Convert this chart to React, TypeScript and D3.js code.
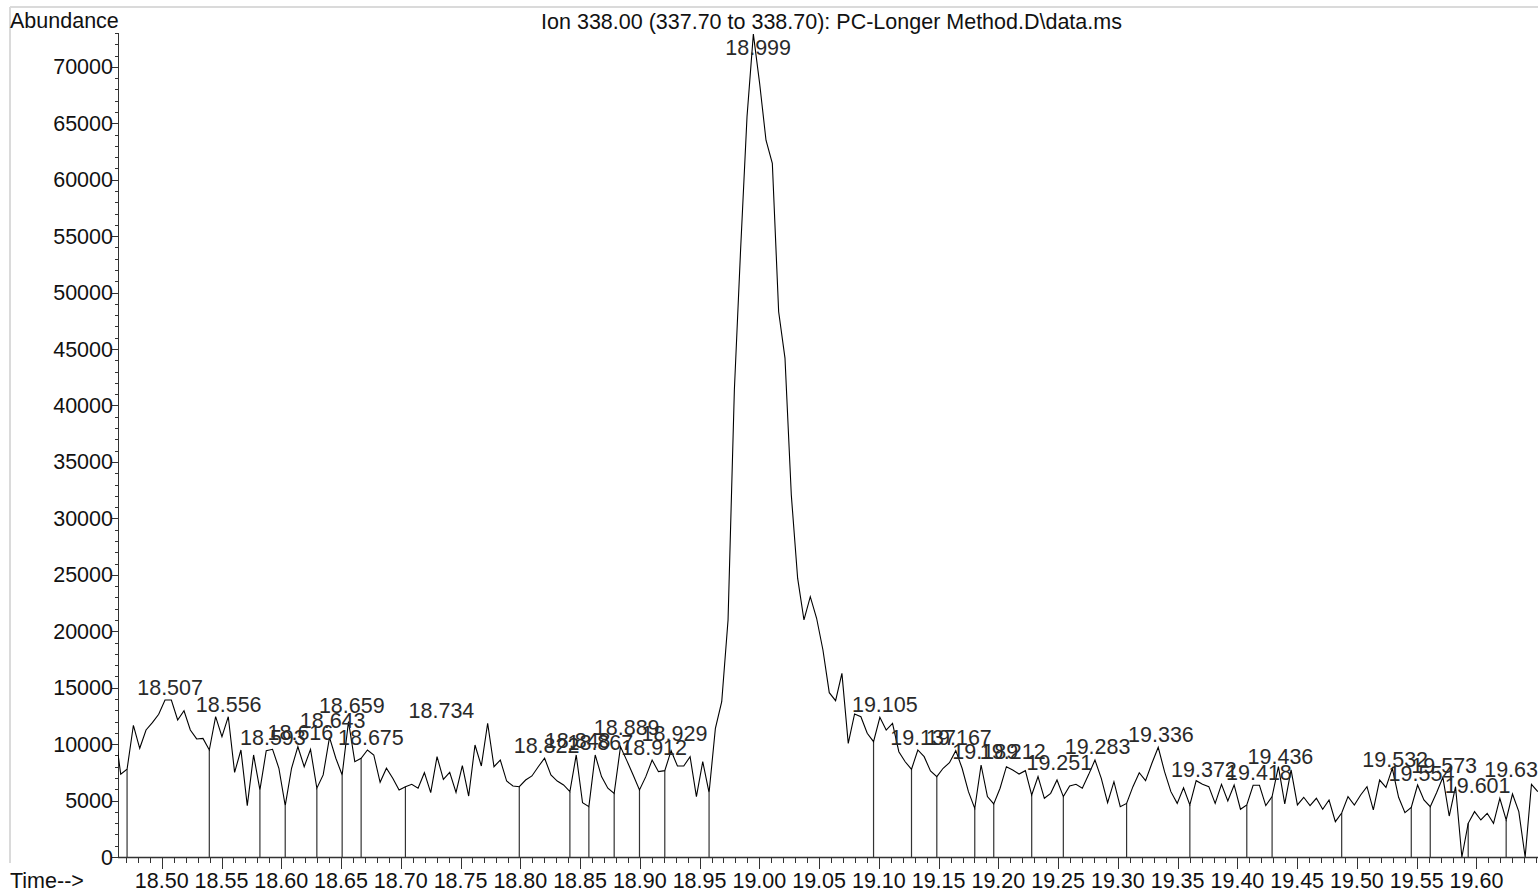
import React from 'react';
import * as d3 from 'd3';

// ---- data ----
const scanStart = 18.4604; // min, first scan
const scanInterval = 0.005293; // min between scans

const abundance = [
  11450, 7330, 7770, 11670, 9630, 11250, 11900, 12640, 13910, 13910,
  12140, 12960, 11250, 10460, 10510, 9480, 12430, 10660, 12430, 7500,
  9480, 4550, 9040, 5940, 9420, 9540, 7860, 4550, 7860, 9770,
  8000, 9540, 6090, 7270, 10600, 8750, 7270, 11990, 8450, 8750,
  9480, 9040, 6620, 7860, 6970, 5940, 6230, 6440, 6090, 7470,
  5700, 8890, 6880, 7500, 5730, 8090, 5400, 9920, 8060, 11850,
  8000, 8590, 6730, 6290, 6230, 6820, 7180, 8000, 8750, 7270,
  6730, 6380, 5790, 9040, 4810, 4460, 9040, 7120, 6090, 5640,
  9770, 8540, 7270, 5940, 7120, 8590, 7560, 7650, 9420, 8060,
  8060, 8890, 5350, 8450, 5700, 11400, 13760, 21000, 41400, 54000,
  65600, 72900, 68500, 63500, 61460, 48300, 44200, 32070, 24700, 21000,
  23060, 21150, 18340, 14560, 13850, 16270, 10070, 12670, 12430, 10960,
  10220, 12370, 11250, 11840, 9330, 8440, 7770, 9480, 8890, 7620,
  7120, 7860, 8360, 9420, 7860, 5790, 4310, 8150, 5350, 4700,
  6090, 8000, 7710, 7350, 7650, 5490, 7120, 5200, 5640, 6820,
  5350, 6290, 6440, 6090, 7300, 8590, 6970, 4810, 6670, 4460,
  4750, 6230, 7470, 6760, 8300, 9720, 7560, 5790, 4750, 6140,
  4610, 6760, 6440, 6230, 4750, 6440, 4960, 6380, 4230, 4610,
  6350, 6350, 4550, 5350, 8000, 4700, 7710, 4610, 5290, 4550,
  5200, 4230, 5050, 3130, 3900, 5350, 4610, 5490, 6230, 4170,
  6820, 6170, 7860, 5290, 3930, 4400, 6380, 5050, 4460, 5700,
  7060, 3630, 6230, 0, 2980, 4020, 3280, 3870, 2980, 5200,
  3280, 5580, 4020, 0, 6440, 5790,
];

// scan numbers (1-based) of the integration boundaries (drop lines)
const boundaryScans = [
  3, 16, 24, 28, 33, 37, 40, 47, 65, 73, 76, 80, 84, 88, 95,
  121, 127, 131, 137, 140, 146, 151, 161, 171, 180, 184, 195,
  206, 209, 215, 221, 224,
];

const peakLabels = [
  '18.507', '18.556', '18.593', '18.616', '18.643', '18.659', '18.675',
  '18.734', '18.822', '18.848', '18.867', '18.889', '18.912', '18.929',
  '18.999', '19.105', '19.137', '19.167', '19.189', '19.212', '19.251',
  '19.283', '19.336', '19.372', '19.418', '19.436', '19.532', '19.554',
  '19.573', '19.601', '19.634',
];
// abundance level at which each label's baseline sits
const labelLevels = [
  14350, 12870, 9920, 10370, 11400, 12730, 9920,
  12290, 9190, 9700, 9480, 10810, 9040, 10320,
  71060, 12870, 9920, 9920, 8660, 8660, 7710,
  9130, 10220, 7060, 6820, 8240, 7950, 6760,
  7470, 5700, 7090,
];

const yTickValues = [0, 5000, 10000, 15000, 20000, 25000, 30000, 35000, 40000, 45000, 50000, 55000, 60000, 65000, 70000];
const xTickLabels = ['18.50', '18.55', '18.60', '18.65', '18.70', '18.75', '18.80', '18.85', '18.90', '18.95', '19.00', '19.05', '19.10', '19.15', '19.20', '19.25', '19.30', '19.35', '19.40', '19.45', '19.50', '19.55', '19.60'];

const title = 'Ion 338.00 (337.70 to 338.70): PC-Longer Method.D\\data.ms';

export default function App() {
  const W = 1538;
  const H = 892;
  const left = 118;
  const right = 1538;
  const top = 33;
  const bottom = 857;
  const font = '"Liberation Sans", Arial, sans-serif';
  const fs = 21.5;

  const x = d3.scaleLinear().domain([18.4634, 19.6515]).range([left, right]);
  const y = d3.scaleLinear().domain([0, 73000]).range([bottom, top]);

  const times = abundance.map((_, i) => scanStart + i * scanInterval);
  const pts: [number, number][] = abundance.map((v, i) => [times[i], v]);
  const line = d3
    .line<[number, number]>()
    .x((d) => x(d[0]))
    .y((d) => y(d[1]));

  const minorY = d3.range(0, 73001, 1000);
  const minorX = d3.range(0, 119).map((k) => 18.47 + k * 0.01).filter((t) => x(t) >= left && x(t) <= right);

  return (
    <svg
      width={W}
      height={H}
      style={{ position: 'absolute', left: 0, top: 0, background: '#fff' }}
      fontFamily={font}
    >
      <defs>
        <clipPath id="plot">
          <rect x={left} y={0} width={right - left} height={bottom + 1} />
        </clipPath>
      </defs>
      {/* frame */}
      <line x1={10} y1={7} x2={W} y2={7} stroke="#dadada" strokeWidth={2} />
      <line x1={10} y1={7} x2={10} y2={863} stroke="#dadada" strokeWidth={2} />

      <text x={10} y={28} fontSize={fs} fill="#111">Abundance</text>
      <text x={831.5} y={29} fontSize={fs} fill="#111" textAnchor="middle">{title}</text>
      <text x={10} y={888} fontSize={fs} fill="#111">Time--&gt;</text>

      {/* y axis */}
      <line x1={left + 0.5} y1={top} x2={left + 0.5} y2={bottom} stroke="#333" strokeWidth={1} />
      {minorY.map((v) => (
        <line key={'my' + v} x1={left - (v % 5000 === 0 ? 6 : 3)} x2={left} y1={Math.round(y(v)) + 0.5} y2={Math.round(y(v)) + 0.5} stroke="#333" strokeWidth={1} />
      ))}
      {yTickValues.map((v) => (
        <text key={'yt' + v} x={113} y={y(v) + 7.5} fontSize={fs} textAnchor="end" fill="#111">{v}</text>
      ))}

      {/* x axis */}
      <line x1={left} y1={bottom + 0.5} x2={right} y2={bottom + 0.5} stroke="#333" strokeWidth={1.5} />
      {minorX.map((t, k) => (
        <line key={'mx' + k} x1={Math.round(x(t)) + 0.5} x2={Math.round(x(t)) + 0.5} y1={bottom} y2={bottom + 6} stroke="#333" strokeWidth={1} />
      ))}
      {xTickLabels.map((s) => (
        <g key={'xt' + s}>
          <line x1={Math.round(x(+s)) + 0.5} x2={Math.round(x(+s)) + 0.5} y1={bottom} y2={bottom + 12} stroke="#333" strokeWidth={1} />
          <text x={x(+s)} y={888} fontSize={fs} textAnchor="middle" fill="#111">{s}</text>
        </g>
      ))}

      <g clipPath="url(#plot)">
        {boundaryScans.map((s) => (
          <line
            key={'b' + s}
            x1={x(times[s - 1])}
            x2={x(times[s - 1])}
            y1={bottom}
            y2={y(abundance[s - 1])}
            stroke="#333"
            strokeWidth={1.2}
          />
        ))}
        <path d={line(pts) || ''} fill="none" stroke="#000" strokeWidth={1.1} strokeLinejoin="miter" />
      </g>

      {peakLabels.map((s, i) => (
        <text key={'pl' + i} x={x(+s)} y={y(labelLevels[i])} fontSize={fs} textAnchor="middle" fill="#2a2a2a">{s}</text>
      ))}
    </svg>
  );
}
